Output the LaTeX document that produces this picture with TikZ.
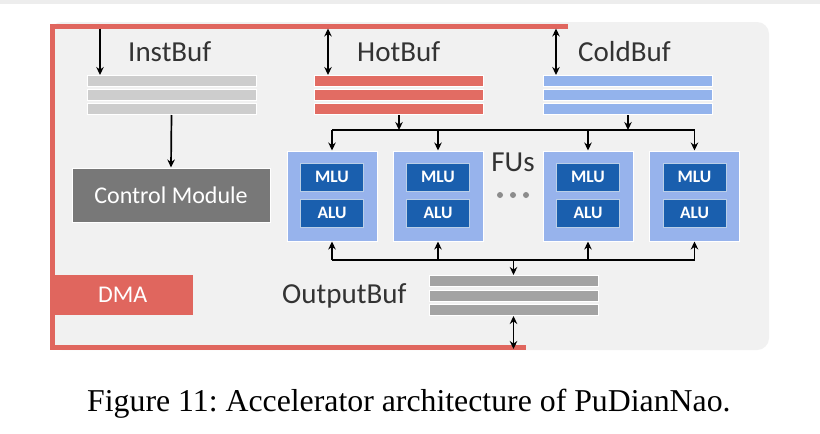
\documentclass[tikz,border=0pt]{standalone}
\usepackage{fontspec}
\setmainfont{Liberation Serif}
\newfontfamily\lblfont{Carlito}
\usetikzlibrary{arrows.meta}
\frenchspacing

\definecolor{panelgray}{HTML}{F1F1F1}
\definecolor{dmared}{HTML}{E0665E}
\definecolor{hotred}{HTML}{E26C63}
\definecolor{coldblue}{HTML}{93B3EC}
\definecolor{instgray}{HTML}{CDCDCD}
\definecolor{outgray}{HTML}{A3A3A3}
\definecolor{ctrlgray}{HTML}{787878}
\definecolor{fublue}{HTML}{97B3EC}
\definecolor{unitblue}{HTML}{1A5FAE}
\definecolor{labelgray}{HTML}{333333}

\tikzset{
  bus/.style={line width=1.7pt, black},
  tip/.style={-{Stealth[length=8pt,width=7.5pt]}},
  dtip/.style={{Stealth[length=8pt,width=7.5pt]}-{Stealth[length=8pt,width=7.5pt]}},
  redline/.style={draw=dmared, line width=5pt},
  bufbar/.style={draw=white, line width=1pt, minimum width=169pt, minimum height=11pt, inner sep=0pt},
  buflabel/.style={font=\lblfont\fontsize{29}{32}\selectfont, text=labelgray, inner sep=0pt},
  fubox/.style={fill=fublue, draw=white, line width=1pt, minimum width=90pt, minimum height=90pt, inner sep=0pt},
  unitbox/.style={fill=unitblue, draw=white!70!unitblue, line width=0.8pt, minimum width=63pt, minimum height=28pt,
                  inner sep=0pt, text=white, font=\lblfont\bfseries\fontsize{17.5}{19}\selectfont},
  blocktext/.style={text=white, font=\lblfont\fontsize{24}{26}\selectfont},
}

\begin{document}
\begin{tikzpicture}[x=1pt,y=-1pt]
\useasboundingbox (0,0) rectangle (820,434);
\fill[white] (0,0) rectangle (820,434);
\fill[black!7] (0,0) rectangle (820,4);

% panel
\fill[panelgray, rounded corners=12pt] (50,22) rectangle (769,350);

% DMA connection lines
\coordinate (tl) at (52.5,26);
\coordinate (tr) at (568,26);
\coordinate (bl) at (52.5,347);
\coordinate (br) at (526,347);
\draw[redline] (tr) -- (tl) -- (bl) -- (br);

% DMA block
\node[fill=dmared, minimum width=141pt, minimum height=40pt, inner sep=0pt, anchor=north west,
      blocktext] (dma) at (52,275) {DMA};

% input buffers (three bars each)
\foreach \nm/\cx/\col in {inst/171.5/instgray, hot/399/hotred, cold/628/coldblue}{
  \node[bufbar, fill=\col] (\nm1) at (\cx,81) {};
  \node[bufbar, fill=\col] (\nm2) at (\cx,95) {};
  \node[bufbar, fill=\col] (\nm3) at (\cx,109) {};
}
\node[buflabel, anchor=west] (instlbl) at (128,52) {InstBuf};
\node[buflabel, anchor=west] (hotlbl) at (357,52) {HotBuf};
\node[buflabel, anchor=west] (coldlbl) at (578,52) {ColdBuf};

% connections from the DMA line into the buffers
\coordinate (instin) at (100,28.5);
\coordinate (hotin) at (328,28.5);
\coordinate (coldin) at (556,28.5);
\draw[bus, tip] (instin) -- (instin |- inst1.north);
\draw[bus, dtip] (hotin) -- (hotin |- hot1.north);
\draw[bus, dtip] (coldin) -- (coldin |- cold1.north);

% control module
\node[fill=ctrlgray, draw=white, line width=1pt, minimum width=198pt, minimum height=54pt, inner sep=0pt,
      blocktext] (ctrl) at (171,195) {Control Module};
\draw[bus, tip] (inst3.south) -- (ctrl.north);

% functional units
\foreach \i/\cx in {1/332, 2/438, 3/588, 4/694.5}{
  \node[fubox] (fu\i) at (\cx,196) {};
  \node[unitbox] (mlu\i) at (\cx,177) {MLU};
  \node[unitbox] (alu\i) at (\cx,213) {ALU};
}
\node[buflabel] (fulbl) at (513,162) {FUs};
\foreach \dx in {-13,0,13}{
  \fill[black!45] (513+\dx,195) circle (3pt);
}

% input distribution bus
\coordinate (tbusL) at (332,130);
\coordinate (tbusR) at (694.5,130);
\draw[bus] (tbusL) -- (tbusR);
\draw[bus, tip] (hot3.south) -- (hot3.south |- tbusL);
\draw[bus, tip] (cold3.south) -- (cold3.south |- tbusL);
\foreach \i in {1,...,4}{
  \draw[bus, tip] (fu\i.north |- tbusL) -- (fu\i.north);
}

% output buffer
\foreach \j/\cy in {1/281, 2/296, 3/310}{
  \node[bufbar, fill=outgray] (out\j) at (513.5,\cy) {};
}
\node[buflabel, anchor=west] (outlbl) at (282,296) {OutputBuf};

% output collection bus
\coordinate (bbusL) at (332,260);
\coordinate (bbusR) at (694.5,260);
\draw[bus] (bbusL) -- (bbusR);
\foreach \i in {1,...,4}{
  \draw[bus, tip] (fu\i.south |- bbusL) -- (fu\i.south);
}
\draw[bus, tip] (out1.north |- bbusL) -- (out1.north);
\coordinate (outdma) at (out3.south |- br);
\draw[bus, dtip] (out3.south) -- ([yshift=-2pt]outdma);

% caption
\node[font=\fontsize{31.8}{34}\selectfont, inner sep=0pt, anchor=base west] (caption) at (87,411)
  {Figure 11: Accelerator architecture of PuDianNao.};
\end{tikzpicture}
\end{document}
